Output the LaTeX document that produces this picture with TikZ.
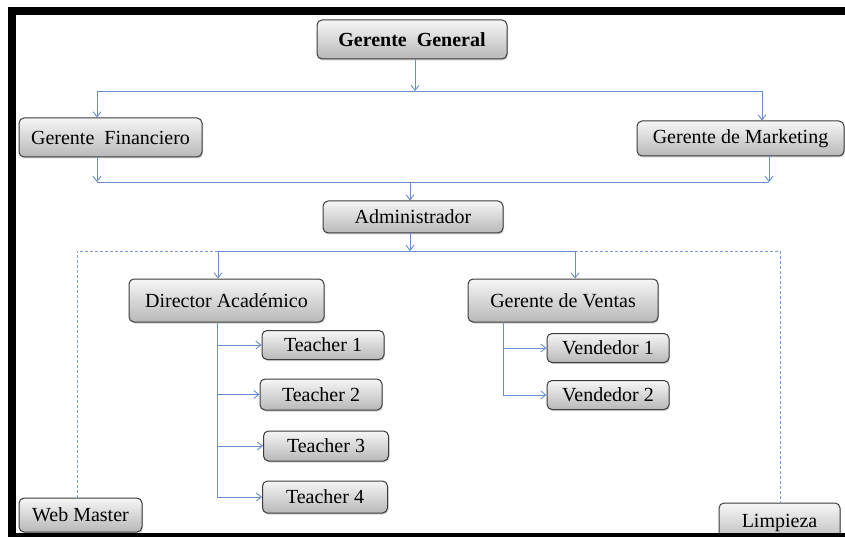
\documentclass[tikz,border=0pt]{standalone}
\usepackage{fontspec}
\setmainfont{Liberation Serif}
\usetikzlibrary{arrows.meta,shadows}

\definecolor{linkblue}{RGB}{104,142,201}
\definecolor{dashblue}{RGB}{118,158,214}
\definecolor{boxedge}{RGB}{60,60,60}
\definecolor{boxtop}{RGB}{246,246,246}
\definecolor{boxbottom}{RGB}{184,184,184}

\tikzset{
  orgbox/.style={draw=boxedge, line width=1pt, rounded corners=5pt,
    top color=boxtop, bottom color=boxbottom, inner sep=0pt,
    font=\fontsize{20}{24}\selectfont, text=black,
    drop shadow={shadow xshift=1pt, shadow yshift=-1.5pt, opacity=0.35}},
  link/.style={draw=linkblue, line width=0.9pt},
  arr/.style={link, -{Straight Barb[length=5pt,width=8pt]}},
  aux/.style={draw=dashblue, line width=1pt, dash pattern=on 3pt off 2pt},
  frame/.style={fill=black}
}

\begin{document}
\begin{tikzpicture}[x=1pt,y=-1pt]
\useasboundingbox (0,0) rectangle (845,537);

% positions of the boxes
\node[orgbox, minimum width=190, minimum height=39] (gg)  at (412,39.5)  {\textbf{Gerente\ \ General}};
\node[orgbox, minimum width=183, minimum height=39] (gf)  at (110.5,137.5) {Gerente\ \ Financiero};
\node[orgbox, minimum width=207, minimum height=35] (gm)  at (740.5,138.5) {Gerente de Marketing};
\node[orgbox, minimum width=180, minimum height=32] (adm) at (413,217)   {Administrador};
\node[orgbox, minimum width=195, minimum height=43] (da)  at (226.5,300.5) {Director Académico};
\node[orgbox, minimum width=190, minimum height=43] (gv)  at (563,300.5) {Gerente de Ventas};
\node[orgbox, minimum width=122, minimum height=29] (t1)  at (323,345)   {Teacher 1};
\node[orgbox, minimum width=122, minimum height=31] (t2)  at (321,394.5) {Teacher 2};
\node[orgbox, minimum width=125, minimum height=30] (t3)  at (326,446)   {Teacher 3};
\node[orgbox, minimum width=125, minimum height=32] (t4)  at (325,497)   {Teacher 4};
\node[orgbox, minimum width=122, minimum height=29] (v1)  at (608,348)   {Vendedor 1};
\node[orgbox, minimum width=122, minimum height=29] (v2)  at (608,395)   {Vendedor 2};
\node[orgbox, minimum width=123, minimum height=34] (wm)  at (80.5,515)  {Web Master};
\node[orgbox, minimum width=121, minimum height=40] (li)  at (779.5,523) {Limpieza};

% junction points of the connector buses
\coordinate (b1)  at (415,91);
\coordinate (b1l) at (97,91);
\coordinate (b1r) at (762,91);
\coordinate (b2)  at (410,182);
\coordinate (b2l) at (97,182);
\coordinate (b2r) at (769,182);
\coordinate (b3)  at (410,251);
\coordinate (b3l) at (218,251);
\coordinate (b3r) at (575,251);
\coordinate (d3l) at (77,251);
\coordinate (d3r) at (780,251);
\coordinate (tk1) at (217,322);
\coordinate (tk2) at (503,322);

% Gerente General to the two managers
\draw[arr] (b1 |- gg.south) -- (b1);
\draw[link] (b1l) -- (b1r);
\draw[arr] (b1l) -- (b1l |- gf.north);
\draw[arr] (b1r) -- (b1r |- gm.north);

% managers to Administrador
\draw[arr] (b2l |- gf.south) -- (b2l);
\draw[arr] (b2r |- gm.south) -- (b2r);
\draw[link] (b2l) -- (b2r);
\draw[arr] (b2) -- (b2 |- adm.north);

% Administrador to the departments
\draw[arr] (b3 |- adm.south) -- (b3);
\draw[link] (b3l) -- (b3r);
\draw[arr] (b3l) -- (b3l |- da.north);
\draw[arr] (b3r) -- (b3r |- gv.north);

% support staff
\draw[aux] (b3l) -- (d3l) -- (d3l |- wm.north);
\draw[aux] (b3r) -- (d3r) -- (d3r |- li.north);

% teachers
\draw[link] (tk1) -- (tk1 |- t4.west);
\draw[arr] (tk1 |- t1.west) -- (t1.west);
\draw[arr] (tk1 |- t2.west) -- (t2.west);
\draw[arr] (tk1 |- t3.west) -- (t3.west);
\draw[arr] (tk1 |- t4.west) -- (t4.west);

% sales staff
\draw[link] (tk2) -- (tk2 |- v2.west);
\draw[arr] (tk2 |- v1.west) -- (v1.west);
\draw[arr] (tk2 |- v2.west) -- (v2.west);

% black frame
\fill[frame] (8,7) rectangle (845,15);
\fill[frame] (8,7) rectangle (16,537);
\fill[frame] (8,533) rectangle (845,537);
\end{tikzpicture}
\end{document}
